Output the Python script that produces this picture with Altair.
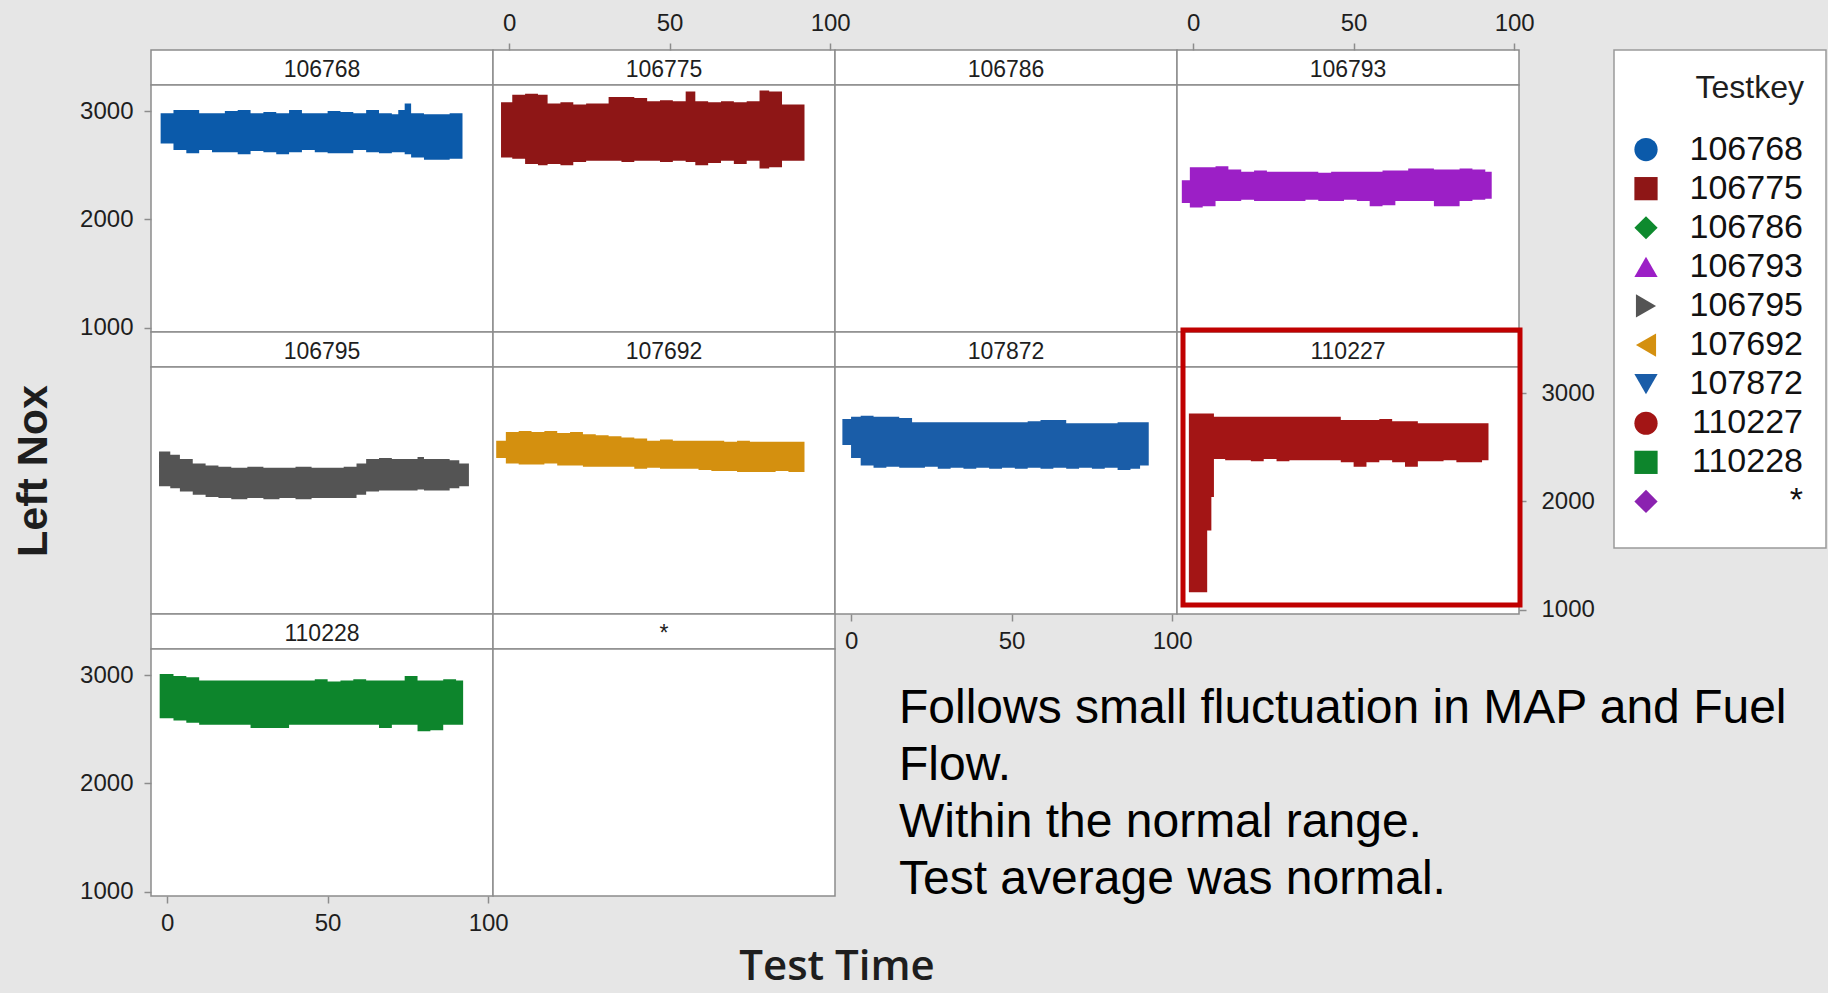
import altair as alt
import pandas as pd

FONT = "Liberation Sans"

KEYS = ["106768", "106775", "106786", "106793", "106795",
        "107692", "107872", "110227", "110228", "*"]
COLORS = ["#0B5AAA", "#8E1616", "#0E8A2E", "#9C1FC6", "#545454",
          "#D4900F", "#1A5DA8", "#A31515", "#0D852C", "#8B22B0"]
SHAPES = ["circle", "square", "diamond", "triangle-up", "triangle-right",
          "triangle-left", "triangle-down", "circle", "square", "diamond"]
X_TICKS = [0, 50, 100]
Y_TICKS = [1000, 2000, 3000]
X_TITLE = "Test Time"
Y_TITLE = "Left Nox"
LEGEND_TITLE = "Testkey"
NOTE_LINES = ["Follows small fluctuation in MAP and Fuel", "Flow.",
              "Within the normal range.", "Test average was normal."]

# Test time (min) and band lower / upper Left Nox for each test key
T_106768 = [-2, 2, 6, 10, 14, 18, 22, 26, 30, 34, 38, 42, 46, 50, 54, 58, 62, 66, 70, 72, 74, 76, 80, 84, 88, 92]
HI_106768 = [2980, 3010, 3010, 2980, 2980, 3000, 3010, 2980, 2990, 2980, 3010, 2980, 2980, 3000, 2990, 2980, 3010, 2980, 2970, 3010, 3070, 2980, 2970, 2970, 2980, 2950]
LO_106768 = [2700, 2640, 2610, 2640, 2620, 2620, 2600, 2630, 2620, 2600, 2620, 2640, 2620, 2610, 2610, 2640, 2620, 2610, 2620, 2620, 2600, 2570, 2550, 2550, 2560, 2650]

T_106775 = [-2.5, 1, 5, 9, 12, 16, 20, 24, 28, 31, 35, 39, 43, 47, 51, 55, 58, 62, 66, 70, 74, 78, 81, 85, 89, 92]
HI_106775 = [3080, 3150, 3160, 3150, 3070, 3080, 3060, 3070, 3070, 3130, 3130, 3120, 3090, 3100, 3090, 3180, 3090, 3080, 3090, 3080, 3090, 3190, 3180, 3060, 3060, 3060]
LO_106775 = [2570, 2560, 2510, 2500, 2510, 2500, 2530, 2540, 2540, 2540, 2530, 2540, 2540, 2530, 2540, 2530, 2500, 2520, 2540, 2510, 2540, 2470, 2480, 2540, 2540, 2540]

T_106793 = [-3.5, -1, 3, 7, 11, 15, 19, 23, 27, 31, 35, 39, 43, 47, 51, 55, 59, 63, 67, 71, 75, 79, 83, 87, 91, 93]
HI_106793 = [2360, 2480, 2480, 2490, 2460, 2440, 2450, 2440, 2440, 2440, 2440, 2430, 2440, 2440, 2440, 2440, 2450, 2450, 2470, 2470, 2460, 2460, 2470, 2460, 2440, 2400]
LO_106793 = [2150, 2110, 2120, 2170, 2170, 2180, 2170, 2170, 2170, 2170, 2180, 2170, 2170, 2180, 2170, 2120, 2130, 2170, 2170, 2170, 2120, 2120, 2170, 2180, 2190, 2220]

T_106795 = [-2.5, 1, 4, 8, 12, 16, 20, 25, 30, 35, 40, 45, 50, 55, 59, 62, 66, 70, 74, 78, 80, 84, 88, 91, 94]
HI_106795 = [2460, 2430, 2390, 2350, 2330, 2320, 2310, 2320, 2310, 2310, 2320, 2310, 2310, 2320, 2350, 2390, 2400, 2390, 2390, 2410, 2390, 2390, 2380, 2350, 2300]
LO_106795 = [2140, 2120, 2090, 2060, 2040, 2030, 2020, 2030, 2020, 2030, 2020, 2030, 2030, 2030, 2060, 2090, 2100, 2100, 2100, 2110, 2100, 2100, 2120, 2140, 2200]

T_107692 = [-4, -1, 3, 7, 11, 15, 19, 23, 27, 31, 35, 39, 43, 47, 51, 55, 59, 63, 67, 71, 75, 79, 83, 87, 92]
HI_107692 = [2560, 2640, 2650, 2640, 2650, 2630, 2640, 2620, 2610, 2600, 2590, 2580, 2560, 2570, 2560, 2560, 2560, 2560, 2550, 2560, 2550, 2550, 2550, 2550, 2550]
LO_107692 = [2400, 2350, 2340, 2340, 2350, 2330, 2330, 2320, 2320, 2320, 2320, 2300, 2310, 2300, 2300, 2300, 2290, 2280, 2280, 2270, 2270, 2270, 2280, 2270, 2280]

T_107872 = [-2.7, 0, 3, 7, 11, 15, 19, 23, 27, 31, 35, 39, 43, 47, 51, 55, 59, 63, 67, 71, 75, 79, 83, 87, 90, 92.7]
HI_107872 = [2760, 2780, 2790, 2780, 2780, 2770, 2730, 2730, 2730, 2730, 2730, 2730, 2730, 2730, 2730, 2740, 2750, 2750, 2720, 2720, 2720, 2720, 2730, 2730, 2730, 2700]
LO_107872 = [2520, 2400, 2330, 2310, 2320, 2310, 2310, 2320, 2300, 2310, 2300, 2310, 2300, 2310, 2300, 2310, 2300, 2310, 2300, 2310, 2300, 2310, 2290, 2300, 2330, 2420]

T_110227 = [-1.3, 4.4, 5.7, 6.5, 10, 14, 18, 22, 26, 30, 34, 38, 42, 46, 50, 54, 58, 62, 66, 70, 74, 78, 82, 86, 90, 92]
HI_110227 = [2810, 2810, 2810, 2780, 2780, 2780, 2780, 2780, 2780, 2780, 2780, 2780, 2780, 2750, 2750, 2750, 2760, 2740, 2740, 2720, 2720, 2720, 2720, 2720, 2720, 2700]
LO_110227 = [1160, 1730, 2040, 2390, 2380, 2380, 2370, 2390, 2370, 2380, 2380, 2380, 2380, 2360, 2320, 2360, 2380, 2360, 2320, 2370, 2370, 2380, 2360, 2360, 2380, 2400]

T_110228 = [-2.3, 2, 6, 10, 14, 18, 22, 26, 30, 34, 38, 42, 46, 50, 54, 58, 62, 66, 70, 74, 78, 82, 86, 90, 92.2]
HI_110228 = [3010, 2990, 2980, 2950, 2950, 2950, 2950, 2950, 2950, 2950, 2950, 2950, 2960, 2940, 2950, 2960, 2950, 2950, 2950, 2990, 2950, 2950, 2960, 2950, 2870]
LO_110228 = [2600, 2580, 2560, 2540, 2540, 2540, 2540, 2510, 2510, 2510, 2540, 2540, 2540, 2540, 2540, 2540, 2540, 2510, 2540, 2540, 2480, 2490, 2540, 2540, 2560]

# ---------------------------------------------------------------- layout
W = 342      # panel width
HH = 35      # header strip height
PH = 247     # plot height
BORDER = "#8c8c8c"
TXT = "#1e1e1e"
CLEAR = alt.ViewBackground(stroke="transparent", fill="transparent")

xscale = alt.Scale(domain=[-5, 101.5], nice=False, zero=False)
yscale = alt.Scale(domain=[960, 3240], nice=False, zero=False)


def xaxis(orient):
    return alt.Axis(orient=orient, values=X_TICKS, tickSize=7, tickColor=BORDER,
                    tickWidth=1.5, domain=False, grid=False, labelFont=FONT,
                    labelFontSize=24, labelColor=TXT, labelPadding=8,
                    labelFlush=False, format="d", title=None)


def yaxis(orient):
    return alt.Axis(orient=orient, values=Y_TICKS, tickSize=7, tickColor=BORDER,
                    tickWidth=1.5, domain=False, grid=False, labelFont=FONT,
                    labelFontSize=24, labelColor=TXT,
                    labelPadding=11 if orient == "left" else 15,
                    labelFlush=False, format="d", title=None)


def band(t, lo, hi):
    return pd.DataFrame({"t": t, "lo": lo, "hi": hi})


def label_layer(text, x, y, **kw):
    return alt.Chart(pd.DataFrame({"s": [text]})).mark_text(**kw).encode(
        text="s:N", x=alt.value(x), y=alt.value(y)
    )


def header(label, top_axis=False, extra=()):
    txt = label_layer(label, W / 2, HH / 2, font=FONT, fontSize=23, color=TXT,
                      baseline="middle", dy=2)
    layers = [txt]
    if top_axis:
        ax = alt.Chart(pd.DataFrame({"t": [0]})).mark_point(opacity=0).encode(
            x=alt.X("t:Q", scale=xscale, axis=xaxis("top"))
        )
        layers = [ax, txt]
    return alt.layer(*layers, *extra).properties(width=W, height=HH)


def panel(df, color, y_orient="", x_orient="", extra=()):
    xa = xaxis(x_orient) if x_orient else None
    ya = yaxis(y_orient) if y_orient else None
    if df is None:
        base = alt.Chart(pd.DataFrame({"t": [0], "lo": [2000]})).mark_point(opacity=0).encode(
            x=alt.X("t:Q", scale=xscale, axis=xa),
            y=alt.Y("lo:Q", scale=yscale, axis=ya),
        )
    else:
        base = alt.Chart(df).mark_area(interpolate="step-after", color=color, opacity=1).encode(
            x=alt.X("t:Q", scale=xscale, axis=xa),
            y=alt.Y("lo:Q", scale=yscale, axis=ya),
            y2="hi:Q",
        )
    return alt.layer(base, *extra).properties(width=W, height=PH)


def filler(h):
    return alt.Chart(pd.DataFrame({"a": [0]})).mark_point(opacity=0).encode(
        x=alt.value(0), y=alt.value(0)
    ).properties(width=W, height=h, view=CLEAR)


# ---------------------------------------------------------------- legend (drawn beside the last header)
LEG_X = 437          # offset of the legend box from the 106793 header's left edge
leg_df = pd.DataFrame({"key": KEYS})
ykey = alt.Y("key:N", scale=alt.Scale(domain=KEYS, range=[80, 471]), axis=None)
leg_box = alt.Chart(pd.DataFrame({"a": [0]})).mark_rect(
    fill="white", stroke="#9a9a9a", strokeWidth=1.5
).encode(x=alt.value(LEG_X), x2=alt.value(LEG_X + 212), y=alt.value(0), y2=alt.value(498))
leg_pts = alt.Chart(leg_df).mark_point(filled=True, size=540, opacity=1).encode(
    x=alt.value(LEG_X + 32), y=ykey,
    color=alt.Color("key:N", scale=alt.Scale(domain=KEYS, range=COLORS), legend=None),
    shape=alt.Shape("key:N", scale=alt.Scale(domain=KEYS, range=SHAPES), legend=None),
)
leg_txt = alt.Chart(leg_df).mark_text(
    align="right", baseline="middle", font=FONT, fontSize=34, color="#111"
).encode(x=alt.value(LEG_X + 189), y=ykey, text="key:N")
leg_title = label_layer(LEGEND_TITLE, LEG_X + 190, 38, align="right", baseline="middle",
                        font=FONT, fontSize=32, color=TXT)

# ---------------------------------------------------------------- annotations
ytitle = label_layer(Y_TITLE, -117, 104, angle=270, font=FONT, fontSize=43,
                     fontWeight="bold", color=TXT, baseline="middle")
xtitle = label_layer(X_TITLE, 686, 318, font="Open Sans", fontSize=42,
                     fontWeight=600, color=TXT, baseline="middle")
highlight = alt.Chart(pd.DataFrame({"a": [0]})).mark_rect(
    filled=False, stroke="#C00000", strokeWidth=5
).encode(x=alt.value(6), x2=alt.value(343), y=alt.value(-37), y2=alt.value(238))

c = dict(zip(KEYS, COLORS))

h1, h2, h3 = header(KEYS[0]), header(KEYS[1], True), header(KEYS[2])
h4 = header(KEYS[3], True, extra=[leg_box, leg_pts, leg_txt, leg_title])
p1 = panel(band(T_106768, LO_106768, HI_106768), c["106768"], y_orient="left")
p2 = panel(band(T_106775, LO_106775, HI_106775), c["106775"])
p3 = panel(None, c["106786"])
p4 = panel(band(T_106793, LO_106793, HI_106793), c["106793"])

h5, h6, h7, h8 = header(KEYS[4]), header(KEYS[5]), header(KEYS[6]), header(KEYS[7])
p5 = panel(band(T_106795, LO_106795, HI_106795), c["106795"], extra=[ytitle])
p6 = panel(band(T_107692, LO_107692, HI_107692), c["107692"])
p7 = panel(band(T_107872, LO_107872, HI_107872), c["107872"], x_orient="bottom")
p8 = panel(band(T_110227, LO_110227, HI_110227), c["110227"], y_orient="right", extra=[highlight])

h9, h10 = header(KEYS[8]), header(KEYS[9])
p9 = panel(band(T_110228, LO_110228, HI_110228), c["110228"], y_orient="left",
           x_orient="bottom", extra=[xtitle])
p10 = panel(None, c["*"])

note = alt.Chart(pd.DataFrame({"s": ["\n".join(NOTE_LINES)]})).mark_text(
    align="left", baseline="top", font=FONT, fontSize=48, lineHeight=57,
    lineBreak="\n", color="black"
).encode(text="s:N", x=alt.value(64), y=alt.value(36)).properties(
    width=W, height=PH, view=CLEAR,
)

cells = [h1, h2, h3, h4,
         p1, p2, p3, p4,
         h5, h6, h7, h8,
         p5, p6, p7, p8,
         h9, h10, filler(HH), filler(HH),
         p9, p10, note, filler(PH)]

chart = alt.concat(*cells, columns=4, spacing=0, bounds="flush").properties(
    padding={"left": 12, "top": 10, "right": 0, "bottom": 4}
).configure(background="#E6E6E6").configure_view(
    stroke=BORDER, strokeWidth=1.5, fill="white"
)

chart.save("out.html", embed_options={"renderer": "svg", "actions": False})
